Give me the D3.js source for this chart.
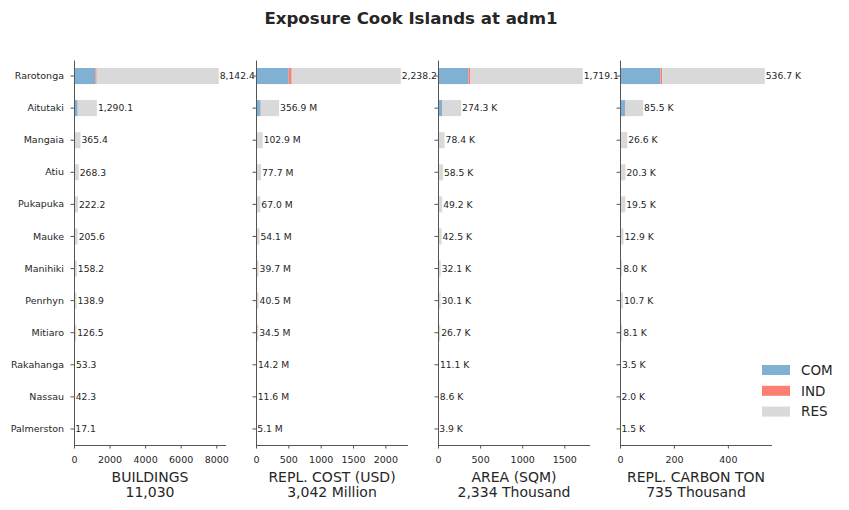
<!DOCTYPE html>
<html>
<head>
<meta charset="utf-8">
<script src="https://cdn.jsdelivr.net/npm/d3@7"></script>
<style>
  body { margin: 0; background: #ffffff; }
  svg { font-family: "DejaVu Sans", sans-serif; }
</style>
</head>
<body>
<div id="chart"></div>
<script>
// Cook Islands exposure by island (adm1), stacked by occupancy type

const islands = ["Rarotonga", "Aitutaki", "Mangaia", "Atiu", "Pukapuka", "Mauke",
                 "Manihiki", "Penrhyn", "Mitiaro", "Rakahanga", "Nassau", "Palmerston"];
const classes = ["COM", "IND", "RES"];

// buildings (count)
const bldCOM = [1200, 205, 18, 8, 6, 6, 4, 4, 3, 1.5, 1.2, 0.6];
const bldIND = [75, 5, 1, 0.5, 0.3, 0.3, 0.2, 0.2, 0.2, 0.1, 0.1, 0];
const bldRES = [6867.4, 1080.1, 346.4, 259.8, 215.9, 199.3, 154.0, 134.7, 123.3, 51.7, 41.0, 16.5];

// replacement cost (million USD)
const costCOM = [505, 70, 10, 4, 2.5, 2.5, 1.5, 1.5, 1.5, 0.5, 0.4, 0.2];
const costIND = [47, 4, 0.6, 0.3, 0.1, 0.2, 0.1, 0.1, 0.1, 0, 0, 0];
const costRES = [1686.2, 282.9, 92.3, 73.4, 64.4, 51.4, 38.1, 38.9, 32.9, 13.7, 11.2, 4.9];

// area (thousand sqm)
const areaCOM = [361, 51, 6, 2.5, 1.5, 1.5, 1, 1, 1, 0.3, 0.3, 0.1];
const areaIND = [24, 2, 0.3, 0.1, 0.1, 0.1, 0, 0, 0, 0, 0, 0];
const areaRES = [1334.1, 221.3, 72.1, 55.9, 47.6, 40.9, 31.1, 29.1, 25.7, 10.8, 8.3, 3.8];

// replacement carbon (thousand ton)
const co2COM = [150, 18.5, 3, 1, 0.7, 0.6, 0.4, 0.4, 0.4, 0.1, 0.1, 0.05];
const co2IND = [6, 1.5, 0.2, 0.1, 0, 0, 0, 0, 0, 0, 0, 0];
const co2RES = [380.7, 65.5, 23.4, 19.2, 18.8, 12.3, 7.6, 10.3, 7.7, 3.4, 1.9, 1.45];

const metricNames = ["BUILDINGS", "REPL. COST (USD)", "AREA (SQM)", "REPL. CARBON TON"];
const metricUnits = ["", "Million", "Thousand", "Thousand"];
const valueSuffix = ["", " M", " K", " K"];
const xTicks = [[0, 2000, 4000, 6000, 8000], [0, 500, 1000, 1500, 2000],
                [0, 500, 1000, 1500], [0, 200, 400]];

const metrics = [
    [bldCOM, bldIND, bldRES],
    [costCOM, costIND, costRES],
    [areaCOM, areaIND, areaRES],
    [co2COM, co2IND, co2RES]
];

const colors = d3.scaleOrdinal().domain(classes).range(["#80b1d3", "#fb8072", "#d9d9d9"]);

const width = 849, height = 510;
const plotTop = 60, plotBottom = 445;
const panelLeft = [74, 256, 438, 620];
const panelWidth = 152;
const textColor = "#262626", axisColor = "#555555";

const svg = d3.select("#chart").append("svg")
    .attr("width", width)
    .attr("height", height);

svg.append("text")
    .attr("x", 411)
    .attr("y", 24)
    .attr("text-anchor", "middle")
    .style("font-size", "16.6px")
    .style("font-weight", "bold")
    .style("fill", textColor)
    .text("Exposure Cook Islands at adm1");

const yScale = d3.scaleBand()
    .domain(islands)
    .range([plotTop, plotBottom])
    .paddingInner(0.5)
    .paddingOuter(0.25);

const fmt1 = d3.format(",.1f");
const fmt0 = d3.format(",.0f");

metrics.forEach((series, m) => {
    const x0 = panelLeft[m];
    const rows = islands.map((name, i) => {
        let row = {island: name};
        classes.forEach((c, k) => row[c] = series[k][i]);
        return row;
    });
    const totals = rows.map(r => r.COM + r.IND + r.RES);
    const grand = d3.sum(totals);

    const xScale = d3.scaleLinear()
        .domain([0, d3.max(totals) * 1.05])
        .range([x0, x0 + panelWidth]);

    const g = svg.append("g").attr("class", "panel");

    // white axes background hides label overflow of previous panel
    g.append("rect")
        .attr("x", x0).attr("y", plotTop)
        .attr("width", panelWidth).attr("height", plotBottom - plotTop)
        .style("fill", "#ffffff");

    const stacked = d3.stack().keys(classes)(rows);

    g.selectAll(".layer")
        .data(stacked)
        .enter().append("g")
        .attr("class", "layer")
        .style("fill", d => colors(d.key))
        .selectAll("rect")
        .data(d => d)
        .enter().append("rect")
        .attr("x", d => xScale(d[0]))
        .attr("y", d => yScale(d.data.island))
        .attr("width", d => Math.max(0, xScale(d[1]) - xScale(d[0])))
        .attr("height", yScale.bandwidth());

    g.selectAll(".val")
        .data(rows)
        .enter().append("text")
        .attr("class", "val")
        .attr("x", (d, i) => xScale(totals[i]) + 1)
        .attr("y", d => yScale(d.island) + yScale.bandwidth() / 2)
        .attr("dy", "0.35em")
        .style("font-size", "9.2px")
        .style("fill", textColor)
        .text((d, i) => fmt1(totals[i]) + valueSuffix[m]);

    // axes
    const xAxis = d3.axisBottom(xScale)
        .tickValues(xTicks[m])
        .tickFormat(d3.format("d"))
        .tickSizeInner(3.5)
        .tickSizeOuter(0)
        .tickPadding(8);

    const gx = g.append("g")
        .attr("transform", `translate(0,${plotBottom})`)
        .call(xAxis);

    const yAxis = d3.axisLeft(yScale)
        .tickSizeInner(3.5)
        .tickSizeOuter(0)
        .tickPadding(6.5)
        .tickFormat(m === 0 ? (d => d) : "");

    const gy = g.append("g")
        .attr("transform", `translate(${x0},0)`)
        .call(yAxis);

    [gx, gy].forEach(a => {
        a.select(".domain").style("stroke", axisColor);
        a.selectAll(".tick line").style("stroke", axisColor);
        a.selectAll(".tick text")
            .style("font-family", "DejaVu Sans, sans-serif")
            .style("font-size", "9.5px")
            .style("fill", textColor);
    });
    gx.select(".domain").attr("d", `M${x0},0.5H${x0 + panelWidth}`);

    // axis title with total
    const cx = x0 + panelWidth / 2;
    g.append("text")
        .attr("x", cx).attr("y", 482)
        .attr("text-anchor", "middle")
        .style("font-size", "14px")
        .style("fill", textColor)
        .text(metricNames[m]);
    g.append("text")
        .attr("x", cx).attr("y", 497)
        .attr("text-anchor", "middle")
        .style("font-size", "14px")
        .style("fill", textColor)
        .text(fmt0(grand) + (metricUnits[m] ? " " + metricUnits[m] : ""));
});

// legend
const legend = svg.append("g").attr("class", "legend");
classes.forEach((c, i) => {
    const y = 370 + i * 20.8;
    legend.append("rect")
        .attr("x", 762).attr("y", y - 5)
        .attr("width", 28).attr("height", 10)
        .style("fill", colors(c));
    legend.append("text")
        .attr("x", 801).attr("y", y)
        .attr("dy", "0.35em")
        .style("font-size", "13.5px")
        .style("fill", textColor)
        .text(c);
});
</script>
</body>
</html>
